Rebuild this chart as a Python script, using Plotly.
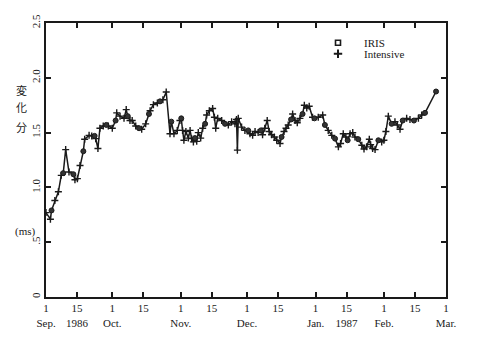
import pandas as pd
import plotly.graph_objects as go

# day offsets from 1 Sep 1986, value (ms), kind: O = IRIS, X = Intensive
days = [0, 2, 2.5, 4, 5.6, 6.9, 7.8, 8.9, 10.4, 12.4, 13.1, 14.2, 15.4, 16.9, 17.5, 19.5, 20.7, 22, 22.5, 23.5,
        24.4, 25.9, 27.3, 28.2, 30, 31.5, 32, 33.5, 35.3, 36.3, 37, 38, 39, 40.6, 42.1, 43.3, 45.1, 46.6, 47.1, 48.6,
        50.4, 51.6, 52.9, 54.4, 56.1, 56.7, 57.9, 59.4, 60.6, 61.2, 61.8, 62.4, 63.3, 64.4, 65.2, 65.9, 66.7, 67.4, 68.2, 68.9,
        70, 70.9, 72, 72.7, 73.9, 75.4, 76.2, 76.8, 77.7, 79.5, 81, 82.5, 84, 85.5, 86.2, 86.6, 87, 88.5, 90, 91.5,
        92.3, 93.5, 94.6, 96, 97.2, 98, 99, 100.1, 101, 102.1, 103.3, 104.4, 105.9, 106.6, 107.7, 108.6, 109.6, 110.9, 111.6, 112.7,
        113.7, 114.9, 116.1, 116.9, 118, 119.1, 120.6, 121.5, 123.2, 125.2, 126.2, 127.7, 129.3, 130.8, 132.3, 133.3, 134.5, 135.7, 136.5, 137.6,
        138.8, 139.8, 141.3, 142.9, 143.9, 145.1, 146.3, 146.9, 147.8, 148.9, 150.4, 151.9, 152.9, 153.8, 154.9, 156.4, 157.9, 159, 160.2, 161.4,
        163.2, 164.7, 166.5, 168.5, 170, 171.5, 176.5]
values = [0.77, 0.71, 0.79, 0.88, 0.96, 1.11, 1.13, 1.345, 1.14, 1.12, 1.07, 1.08, 1.20, 1.33, 1.44, 1.475, 1.47, 1.47, 1.445, 1.355,
          1.54, 1.56, 1.57, 1.56, 1.54, 1.61, 1.68, 1.65, 1.63, 1.71, 1.65, 1.61, 1.61, 1.56, 1.54, 1.53, 1.58, 1.67, 1.70, 1.755,
          1.77, 1.785, 1.80, 1.87, 1.49, 1.60, 1.49, 1.52, 1.61, 1.63, 1.52, 1.43, 1.51, 1.45, 1.52, 1.445, 1.415, 1.45, 1.42, 1.50,
          1.45, 1.54, 1.58, 1.66, 1.70, 1.72, 1.64, 1.54, 1.63, 1.61, 1.58, 1.57, 1.60, 1.58, 1.62, 1.34, 1.63, 1.55, 1.52, 1.52,
          1.49, 1.475, 1.51, 1.50, 1.52, 1.48, 1.54, 1.61, 1.51, 1.48, 1.46, 1.43, 1.40, 1.46, 1.51, 1.54, 1.57, 1.62, 1.67, 1.61,
          1.59, 1.63, 1.67, 1.75, 1.725, 1.74, 1.64, 1.63, 1.64, 1.66, 1.57, 1.52, 1.475, 1.445, 1.37, 1.40, 1.49, 1.46, 1.43, 1.49,
          1.50, 1.46, 1.44, 1.385, 1.35, 1.37, 1.44, 1.39, 1.355, 1.345, 1.43, 1.415, 1.43, 1.51, 1.65, 1.58, 1.60, 1.57, 1.53, 1.61,
          1.63, 1.62, 1.61, 1.63, 1.66, 1.68, 1.875]
kinds = ["X", "X", "O", "X", "X", "X", "O", "X", "X", "O", "X", "X", "X", "O", "X", "X", "X", "O", "X", "X",
         "X", "X", "O", "X", "X", "O", "X", "X", "X", "X", "O", "X", "X", "X", "O", "X", "X", "O", "X", "X",
         "X", "O", "X", "X", "X", "O", "X", "X", "X", "O", "X", "X", "X", "X", "X", "X", "X", "O", "X", "X",
         "X", "X", "O", "X", "X", "X", "X", "X", "X", "X", "O", "X", "X", "X", "X", "X", "X", "X", "X", "O",
         "X", "X", "X", "X", "O", "X", "X", "X", "X", "X", "X", "X", "X", "O", "X", "X", "X", "O", "X", "X",
         "X", "X", "O", "X", "X", "X", "X", "O", "X", "X", "O", "X", "X", "O", "X", "X", "X", "X", "O", "X",
         "X", "X", "O", "X", "X", "X", "X", "X", "X", "X", "O", "X", "X", "X", "X", "O", "X", "X", "X", "O",
         "X", "X", "O", "X", "X", "O", "O"]

tick_dates = ["1986-09-01", "1986-09-15", "1986-10-01", "1986-10-15", "1986-11-01", "1986-11-15",
              "1986-12-01", "1986-12-15", "1987-01-01", "1987-01-15", "1987-02-01", "1987-02-15", "1987-03-01"]
tick_texts = ["1<br>Sep.", "15<br>1986", "1<br>Oct.", "15", "1<br>Nov.", "15",
              "1<br>Dec.", "15", "1<br>Jan.", "15<br>1987", "1<br>Feb.", "15", "1<br>Mar."]
y_tickvals = [0, 0.5, 1.0, 1.5, 2.0, 2.5]
y_ticktext = ["0", ".5", "1.0", "1.5", "2.0", "2.5"]
legend_names = ["IRIS", "Intensive"]

base = pd.Timestamp("1986-09-01")
dates = [base + pd.to_timedelta(d, unit="D") for d in days]

iris_x = [d for d, k in zip(dates, kinds) if k == "O"]
iris_y = [v for v, k in zip(values, kinds) if k == "O"]
int_x = [d for d, k in zip(dates, kinds) if k == "X"]
int_y = [v for v, k in zip(values, kinds) if k == "X"]

ink = "#1a1a1a"
serif = "Liberation Serif, DejaVu Serif, serif"
cjk = "Noto Sans CJK JP"

L, R, T, B = 46, 37, 23, 42
W, H = 483, 341
pw, ph = W - L - R, H - T - B

fig = go.Figure()
fig.add_trace(go.Scatter(x=dates, y=values, mode="lines", line=dict(color=ink, width=1.5),
                         showlegend=False, hoverinfo="skip"))
fig.add_trace(go.Scatter(x=int_x, y=int_y, mode="markers", name="Intensive", showlegend=False,
                         marker=dict(symbol="cross-thin-open", size=5, color=ink, line=dict(color=ink, width=1.4))))
fig.add_trace(go.Scatter(x=iris_x, y=iris_y, mode="markers", name="IRIS", showlegend=False,
                         marker=dict(symbol="circle", size=5, color="#333333", line=dict(color=ink, width=1))))

# legend drawn on an overlay axis
fig.add_trace(go.Scatter(x=[0.73], y=[0.928], xaxis="x2", yaxis="y2", mode="markers", showlegend=False,
                         marker=dict(symbol="square-open", size=5, color=ink, line=dict(color=ink, width=1.6)),
                         hoverinfo="skip"))
fig.add_trace(go.Scatter(x=[0.73], y=[0.888], xaxis="x2", yaxis="y2", mode="markers", showlegend=False,
                         marker=dict(symbol="cross-thin-open", size=6, color=ink, line=dict(color=ink, width=2)),
                         hoverinfo="skip"))

annotations = [
    dict(x=0.79, y=0.928, xref="paper", yref="paper", text=legend_names[0], showarrow=False, xanchor="left",
         yanchor="middle", font=dict(family=serif, size=11, color=ink)),
    dict(x=0.79, y=0.888, xref="paper", yref="paper", text=legend_names[1], showarrow=False, xanchor="left",
         yanchor="middle", font=dict(family=serif, size=11, color=ink)),
]


def px_ann(text, xp, yp, family):
    return dict(x=(xp - L) / pw, y=(H - B - yp) / ph, xref="paper", yref="paper", text=text,
                showarrow=False, xanchor="center", yanchor="middle",
                font=dict(family=family, size=11, color=ink))


for ch, yy in zip(["変", "化", "分"], [90, 108, 128]):
    annotations.append(px_ann(ch, 21, yy, cjk))
annotations.append(px_ann("(ms)", 25, 233, serif))

fig.update_layout(
    width=W, height=H,
    margin=dict(l=L, r=R, t=T, b=B),
    paper_bgcolor="white", plot_bgcolor="white",
    font=dict(family=serif, size=11, color=ink),
    showlegend=False,
    annotations=annotations,
    xaxis=dict(type="date", range=["1986-09-01", "1987-03-01"], tickvals=tick_dates, ticktext=tick_texts,
               showgrid=False, zeroline=False, showline=True, linewidth=2, linecolor=ink, mirror="ticks",
               ticks="inside", ticklen=5, tickwidth=1.5, tickcolor=ink, tickfont=dict(family=serif, size=11, color=ink)),
    yaxis=dict(range=[0, 2.5], tickvals=y_tickvals, ticktext=y_ticktext, tickangle=-90,
               showgrid=False, zeroline=False, showline=True, linewidth=2, linecolor=ink, mirror="ticks",
               ticks="inside", ticklen=5, tickwidth=1.5, tickcolor=ink, tickfont=dict(family=serif, size=11, color=ink)),
    xaxis2=dict(range=[0, 1], overlaying="x", visible=False, fixedrange=True),
    yaxis2=dict(range=[0, 1], overlaying="y", visible=False, fixedrange=True),
)

fig.write_html("out.html")
